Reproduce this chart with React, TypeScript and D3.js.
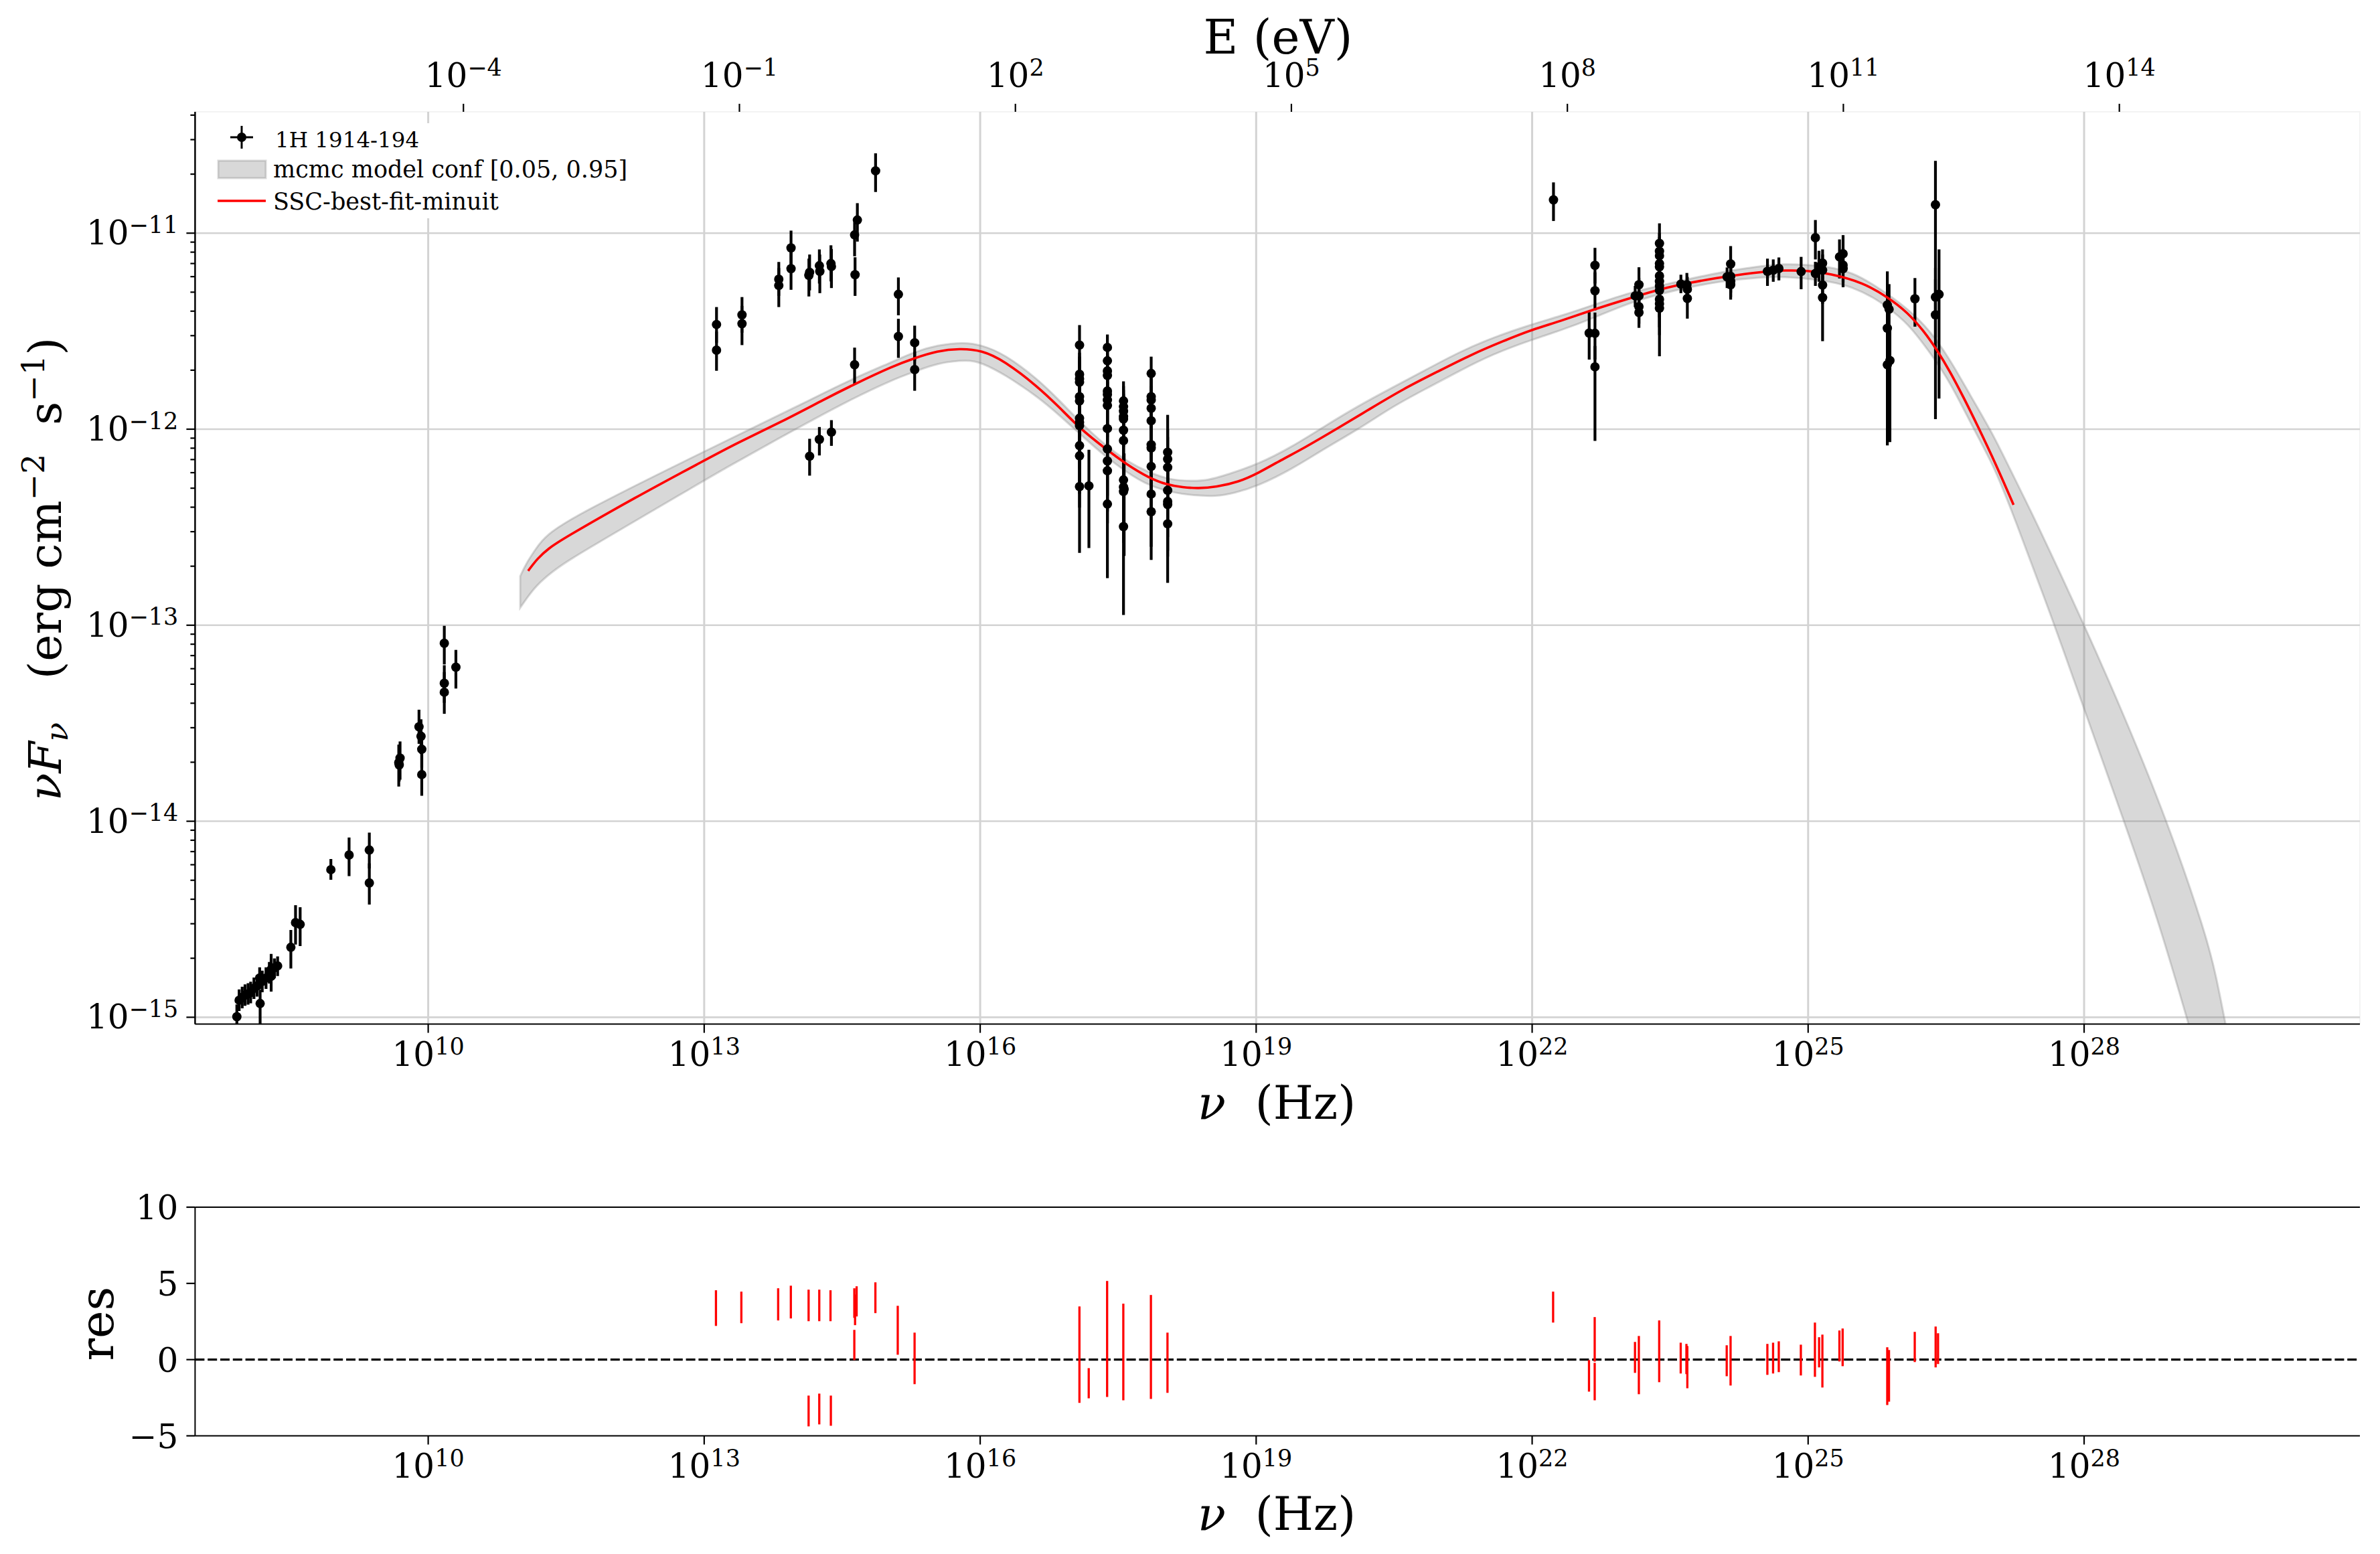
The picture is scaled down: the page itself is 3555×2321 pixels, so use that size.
import * as d3 from "d3"
import { useEffect, useRef } from "react"

type Point = [number, number, number, number] // log nu, log flux, log upper, log lower
type Seg = [number, number, number] // log nu, res top, res bottom
type Run = { t: string; italic?: boolean; size?: number; dy?: number }

const WIDTH = 3555
const HEIGHT = 2321
const SERIF = "'DejaVu Serif', serif"

const radioPoints: Point[] = [
  [7.92, -14.997, -14.935, -15.1], [7.945, -14.913, -14.858, -14.968], [7.978, -14.899, -14.844, -14.954],
  [8.009, -14.887, -14.832, -14.942], [8.042, -14.881, -14.826, -14.936], [8.07, -14.874, -14.819, -14.929],
  [8.106, -14.852, -14.797, -14.907], [8.14, -14.84, -14.785, -14.895], [8.168, -14.8, -14.745, -14.855],
  [8.173, -14.93, -14.86, -15.1], [8.196, -14.817, -14.762, -14.872], [8.237, -14.8, -14.745, -14.855],
  [8.273, -14.773, -14.718, -14.828], [8.293, -14.791, -14.677, -14.869], [8.293, -14.756, -14.7, -14.81],
  [8.329, -14.747, -14.7, -14.8], [8.363, -14.738, -14.69, -14.79], [8.507, -14.643, -14.555, -14.751],
  [8.558, -14.517, -14.428, -14.629], [8.608, -14.526, -14.439, -14.637], [8.942, -14.247, -14.193, -14.299],
  [9.14, -14.172, -14.083, -14.28], [9.36, -14.147, -14.058, -14.241], [9.36, -14.315, -14.215, -14.425],
  [9.68, -13.701, -13.609, -13.823], [9.685, -13.713, -13.622, -13.797], [9.694, -13.678, -13.593, -13.788],
  [9.9, -13.518, -13.431, -13.605], [9.922, -13.567, -13.48, -13.657], [9.93, -13.633, -13.544, -13.727],
  [9.93, -13.762, -13.657, -13.87], [10.175, -13.092, -13.003, -13.2], [10.175, -13.296, -13.204, -13.396],
  [10.175, -13.342, -13.239, -13.452], [10.301, -13.214, -13.126, -13.323],
]

const opticalPoints: Point[] = [
  [13.134, -11.466, -11.377, -11.559], [13.134, -11.597, -11.502, -11.702], [13.411, -11.417, -11.326, -11.508],
  [13.411, -11.462, -11.371, -11.571], [13.811, -11.235, -11.147, -11.32], [13.811, -11.267, -11.178, -11.377],
  [13.944, -11.075, -10.987, -11.166], [13.944, -11.181, -11.092, -11.289], [14.138, -11.215, -11.13, -11.323],
  [14.146, -11.2, -11.109, -11.292], [14.252, -11.166, -11.083, -11.257], [14.257, -11.195, -11.109, -11.306],
  [14.378, -11.155, -11.062, -11.246], [14.383, -11.17, -11.081, -11.28], [14.635, -11.009, -10.944, -11.118],
  [14.665, -10.933, -10.847, -11.043], [14.64, -11.212, -11.123, -11.32], [14.863, -10.682, -10.593, -10.79],
  [15.111, -11.312, -11.226, -11.419], [15.111, -11.527, -11.437, -11.636], [15.288, -11.559, -11.472, -11.65],
  [15.288, -11.696, -11.605, -11.804], [14.635, -11.671, -11.584, -11.768], [14.146, -12.138, -12.049, -12.237],
  [14.252, -12.052, -11.989, -12.134], [14.383, -12.015, -11.954, -12.085],
]

const xrayPoints: Point[] = [
  [17.08, -11.571, -11.469, -11.69], [17.08, -11.72, -11.61, -11.87], [17.08, -11.743, -11.63, -11.9],
  [17.08, -11.76, -11.65, -11.93], [17.08, -11.834, -11.72, -12.02], [17.08, -11.856, -11.74, -12.05],
  [17.08, -11.944, -11.83, -12.15], [17.08, -11.965, -11.85, -12.18], [17.08, -11.982, -11.87, -12.2],
  [17.08, -12.084, -11.96, -12.33], [17.08, -12.136, -12.0, -12.4], [17.08, -12.293, -12.14, -12.631],
  [17.182, -12.289, -12.105, -12.606],
  [17.383, -11.583, -11.517, -11.71], [17.383, -11.651, -11.56, -11.79], [17.383, -11.703, -11.6, -11.86],
  [17.383, -11.726, -11.62, -11.89], [17.383, -11.805, -11.69, -11.98], [17.383, -11.822, -11.71, -12.0],
  [17.383, -11.851, -11.74, -12.04], [17.383, -11.879, -11.76, -12.07], [17.383, -11.997, -11.87, -12.2],
  [17.383, -12.101, -11.97, -12.34], [17.383, -12.162, -12.02, -12.42], [17.383, -12.212, -12.07, -12.48],
  [17.383, -12.382, -12.22, -12.76],
  [17.558, -11.856, -11.756, -11.99], [17.558, -11.885, -11.78, -12.03], [17.558, -11.908, -11.8, -12.05],
  [17.558, -11.936, -11.82, -12.09], [17.558, -11.948, -11.83, -12.11], [17.558, -12.005, -11.88, -12.18],
  [17.558, -12.058, -11.93, -12.24], [17.558, -12.259, -12.11, -12.5], [17.558, -12.295, -12.15, -12.55],
  [17.558, -12.318, -12.17, -12.58], [17.558, -12.497, -12.33, -12.948], [17.565, -12.306, -12.124, -12.646],
  [17.859, -11.716, -11.63, -11.84], [17.859, -11.834, -11.72, -11.99], [17.859, -11.851, -11.74, -12.01],
  [17.859, -11.893, -11.78, -12.06], [17.859, -11.957, -11.84, -12.13], [17.859, -12.079, -11.95, -12.28],
  [17.859, -12.096, -11.97, -12.3], [17.859, -12.19, -12.05, -12.42], [17.859, -12.331, -12.17, -12.6],
  [17.859, -12.421, -12.25, -12.667],
  [18.038, -12.118, -11.927, -12.3], [18.038, -12.153, -12.0, -12.35], [18.038, -12.195, -12.04, -12.4],
  [18.038, -12.312, -12.15, -12.55], [18.038, -12.369, -12.2, -12.62], [18.038, -12.384, -12.22, -12.65],
  [18.038, -12.483, -12.3, -12.784],
]

const gammaPoints: Point[] = [
  [22.232, -10.83, -10.741, -10.938], [22.62, -11.51, -11.403, -11.645], [22.683, -11.164, -11.075, -11.257],
  [22.683, -11.294, -11.2, -11.394], [22.683, -11.511, -11.405, -11.645], [22.683, -11.682, -11.576, -12.06],
  [23.12, -11.32, -11.269, -11.377], [23.161, -11.263, -11.174, -11.349], [23.161, -11.32, -11.229, -11.417],
  [23.161, -11.375, -11.286, -11.462], [23.161, -11.405, -11.314, -11.483],
  [23.384, -11.052, -10.95, -11.16], [23.384, -11.092, -11.0, -11.2], [23.384, -11.115, -11.02, -11.23],
  [23.384, -11.155, -11.06, -11.27], [23.384, -11.172, -11.08, -11.29], [23.384, -11.218, -11.12, -11.34],
  [23.384, -11.246, -11.15, -11.37], [23.384, -11.269, -11.17, -11.4], [23.384, -11.292, -11.19, -11.43],
  [23.384, -11.337, -11.23, -11.48], [23.384, -11.36, -11.25, -11.52], [23.384, -11.383, -11.27, -11.628],
  [23.617, -11.26, -11.212, -11.306], [23.682, -11.263, -11.203, -11.337], [23.687, -11.286, -11.223, -11.349],
  [23.687, -11.333, -11.246, -11.436],
  [24.119, -11.223, -11.175, -11.28], [24.158, -11.157, -11.066, -11.246], [24.158, -11.22, -11.132, -11.303],
  [24.158, -11.246, -11.166, -11.326], [24.158, -11.263, -11.178, -11.339],
  [24.558, -11.195, -11.13, -11.269], [24.621, -11.189, -11.134, -11.248], [24.682, -11.18, -11.124, -11.241],
  [24.924, -11.196, -11.121, -11.286], [25.079, -11.206, -11.146, -11.269], [25.079, -11.023, -10.933, -11.134],
  [25.118, -11.172, -11.09, -11.248], [25.157, -11.153, -11.083, -11.235], [25.157, -11.189, -11.109, -11.269],
  [25.157, -11.265, -11.178, -11.36], [25.157, -11.329, -11.223, -11.551],
  [25.341, -11.121, -11.032, -11.231], [25.38, -11.105, -11.01, -11.2], [25.38, -11.163, -11.075, -11.252],
  [25.38, -11.181, -11.098, -11.276],
  [25.861, -11.366, -11.195, -11.462], [25.88, -11.388, -11.26, -11.519], [25.861, -11.485, -11.35, -11.645],
  [25.861, -11.671, -11.519, -12.083], [25.889, -11.65, -11.496, -12.066],
  [26.161, -11.335, -11.229, -11.477], [26.384, -10.855, -10.631, -11.405], [26.384, -11.326, -11.178, -11.531],
  [26.423, -11.312, -11.083, -11.844], [26.384, -11.417, -11.235, -11.949],
]

const modelNu = [
  11.086, 11.189, 11.313, 11.454, 12.25, 13.0, 13.35, 13.835, 14.32, 14.635, 15.048, 15.29, 15.533, 15.775, 16.018, 16.26,
  16.624, 16.867, 17.09, 17.352, 17.595, 17.837, 18.031, 18.2, 18.37, 18.565, 18.807, 19.025, 19.268, 19.511, 19.875,
  20.238, 20.602, 20.966, 21.33, 21.693, 22.0, 22.3, 22.663, 23.124, 23.391, 23.682, 24.143, 24.507, 24.749, 24.992,
  25.234, 25.598, 25.865, 26.083, 26.253, 26.398, 26.544, 26.69, 26.835, 27.053, 27.233,
]
const modelFlux = [
  -12.723, -12.658, -12.607, -12.562, -12.348, -12.16, -12.072, -11.964, -11.844, -11.77, -11.679, -11.637, -11.601, -11.588,
  -11.597, -11.65, -11.782, -11.891, -11.999, -12.096, -12.181, -12.249, -12.284, -12.297, -12.302, -12.295, -12.27,
  -12.224, -12.158, -12.099, -11.999, -11.896, -11.794, -11.708, -11.621, -11.549, -11.492, -11.45, -11.39, -11.323,
  -11.286, -11.255, -11.218, -11.197, -11.189, -11.191, -11.206, -11.252, -11.326, -11.405, -11.497, -11.593, -11.707,
  -11.838, -11.975, -12.191, -12.386,
]

const bandUpperNu = [
  11.0, 11.064, 11.174, 11.27, 11.582, 13.0, 14.08, 14.563, 15.048, 15.29, 15.533, 15.824, 16.018, 16.26, 16.624,
  16.867, 17.09, 17.352, 17.595, 17.837, 18.08, 18.32, 18.468, 18.685, 19.025, 19.389, 19.753, 20.117, 20.48, 20.844,
  21.208, 21.572, 22.0, 22.3, 22.663, 23.052, 23.537, 24.022, 24.507, 24.749, 24.992, 25.234, 25.477, 25.719, 26.083,
  26.326, 26.544, 26.762, 27.005, 27.187, 27.437, 28.0, 28.453, 28.907, 29.326, 29.434, 29.538,
]
const bandUpperFlux = [
  -12.75, -12.685, -12.607, -12.545, -12.443, -12.113, -11.868, -11.753, -11.656, -11.605, -11.571, -11.556, -11.571,
  -11.616, -11.743, -11.856, -11.965, -12.079, -12.164, -12.221, -12.261, -12.264, -12.261, -12.232, -12.178, -12.09,
  -11.982, -11.879, -11.788, -11.697, -11.606, -11.532, -11.464, -11.424, -11.367, -11.303, -11.252, -11.2, -11.166,
  -11.157, -11.161, -11.172, -11.2, -11.263, -11.383, -11.497, -11.645, -11.827, -12.021, -12.197, -12.43, -12.996,
  -13.48, -14.003, -14.578, -14.787, -15.036,
]
const bandLowerNu = [
  11.0, 11.064, 11.174, 11.342, 11.531, 11.97, 13.0, 13.229, 13.956, 14.563, 15.048, 15.29, 15.533, 15.872, 16.018,
  16.26, 16.624, 16.867, 17.09, 17.352, 17.595, 17.837, 18.08, 18.32, 18.565, 18.757, 19.025, 19.389, 19.753, 20.117,
  20.48, 20.844, 21.208, 21.572, 22.0, 22.3, 22.663, 23.052, 23.537, 24.022, 24.507, 24.749, 24.992, 25.234, 25.477,
  25.719, 25.841, 26.083, 26.326, 26.544, 26.799, 27.029, 27.226, 27.646, 28.0, 28.436, 28.804, 29.136,
]
const bandLowerFlux = [
  -12.911, -12.867, -12.798, -12.729, -12.667, -12.545, -12.262, -12.199, -12.009, -11.855, -11.747, -11.707, -11.662,
  -11.645, -11.662, -11.719, -11.834, -11.931, -12.027, -12.136, -12.221, -12.289, -12.323, -12.338, -12.343, -12.327,
  -12.289, -12.204, -12.096, -11.999, -11.885, -11.794, -11.703, -11.617, -11.543, -11.498, -11.435, -11.354, -11.292,
  -11.246, -11.223, -11.223, -11.232, -11.246, -11.274, -11.331, -11.371, -11.458, -11.61, -11.759, -12.0, -12.197,
  -12.432, -12.956, -13.427, -14.003, -14.5, -15.036,
]

const residualsLow: Seg[] = [
  [13.128, 4.55, 2.21], [13.404, 4.46, 2.39], [13.804, 4.68, 2.57], [13.942, 4.85, 2.7], [14.135, 4.59, 2.52],
  [14.251, 4.59, 2.52], [14.373, 4.55, 2.52], [14.632, 4.68, 2.74], [14.657, 4.81, 2.83], [14.64, 4.27, 2.26],
  [14.632, 1.95, -0.03], [14.861, 5.07, 3.05], [15.104, 3.53, 0.32], [15.287, 1.77, -1.61], [14.135, -2.36, -4.38],
  [14.251, -2.23, -4.25], [14.377, -2.36, -4.34], [17.079, 3.49, -2.84], [17.18, -0.56, -2.54], [17.38, 5.16, -2.45],
  [17.556, 3.67, -2.67], [17.856, 4.24, -2.58], [18.036, 1.77, -2.18],
]
const residualsHigh: Seg[] = [
  [22.228, 4.46, 2.43], [22.618, -0.03, -2.1], [22.68, 2.79, -0.13], [22.68, -0.21, -2.67], [23.118, 1.16, -0.87],
  [23.16, 1.55, -2.27], [23.381, 2.57, -1.48], [23.615, 1.11, -0.91], [23.677, 1.03, -0.95], [23.687, 0.89, -1.88],
  [24.115, 0.94, -1.09], [24.157, 1.55, -1.7], [24.557, 1.03, -1.0], [24.619, 1.11, -0.91], [24.681, 1.2, -0.82],
  [24.921, 0.98, -1.04], [25.074, 2.43, -1.13], [25.119, 1.47, -0.51], [25.155, 1.64, -1.83], [25.34, 1.91, -0.12],
  [25.375, 2.04, -0.43], [25.86, 0.81, -2.98], [25.879, 0.63, -2.76], [26.159, 1.82, -0.16], [26.386, 2.17, -0.51],
  [26.412, 1.73, -0.29],
]

const nuTicks = [10, 13, 16, 19, 22, 25, 28]
const energyTicks = [-4, -1, 2, 5, 8, 11, 14]
const fluxTicks = [-15, -14, -13, -12, -11]
const resTicks = [-5, 0, 5, 10]
const legendLabels = ["1H 1914-194", "mcmc model conf [0.05, 0.95]", "SSC-best-fit-minuit"]

const pow = (v: number) => Math.pow(10, v)
const minus = (n: number) => String(n).replace("-", "\u2212")

function addRuns(text: d3.Selection<any, any, any, any>, runs: Run[]) {
  let prev = 0
  runs.forEach((r) => {
    const s = text.append("tspan").text(r.t)
    if (r.italic) s.attr("font-style", "italic")
    if (r.size) s.attr("font-size", r.size)
    const shift = r.dy ?? 0
    s.attr("dy", shift - prev)
    prev = shift
  })
}

function powerLabels(g: d3.Selection<any, any, any, any>, exponent: (d: any) => number) {
  g.selectAll<SVGTextElement, any>(".tick text").each(function (d) {
    const t = d3.select(this)
    t.text(null)
    addRuns(t, [{ t: "10" }, { t: minus(exponent(d)), size: 35, dy: -17.5 }])
  })
}

function draw(svgEl: SVGSVGElement) {
  const svg = d3.select(svgEl)
  svg.selectAll("*").remove()
  svg.attr("font-family", SERIF).attr("fill", "#000")

  const left = 291.4
  const right = 3525
  const top = 167
  const bottom = 1529.6
  const resTop = 1803
  const resBottom = 2144.5

  const x = d3.scaleLog().domain([pow(7.466), pow(30.998)]).range([left, right])
  const y = d3.scaleLog().domain([pow(-15.035), pow(-10.381)]).range([bottom, top])
  const energy = d3.scaleLog().domain([pow(7.466 - 14.383), pow(30.998 - 14.383)]).range([left, right])
  const yRes = d3.scaleLinear().domain([-5, 10]).range([resBottom, resTop])

  svg.append("rect").attr("width", WIDTH).attr("height", HEIGHT).attr("fill", "#fff")

  const clip = svg.append("clipPath").attr("id", "plot-clip")
  clip.append("rect").attr("x", left).attr("y", top).attr("width", right - left).attr("height", bottom - top)

  // faint top/right frame of the SED panel
  svg.append("path")
    .attr("d", `M${left},${top}H${right}V${bottom}`)
    .attr("fill", "none").attr("stroke", "#f3f3f3").attr("stroke-width", 2)

  const grid = svg.append("g").attr("stroke", "#d3d3d3")
  grid.selectAll("line.v").data(nuTicks).join("line")
    .attr("x1", (d) => x(pow(d))).attr("x2", (d) => x(pow(d)))
    .attr("y1", top).attr("y2", bottom).attr("stroke-width", 3)
  grid.selectAll("line.h").data(fluxTicks).join("line")
    .attr("class", "h")
    .attr("x1", left).attr("x2", right)
    .attr("y1", (d) => y(pow(d))).attr("y2", (d) => y(pow(d))).attr("stroke-width", 2.6)

  const plot = svg.append("g").attr("clip-path", "url(#plot-clip)")

  const logLine = d3.line<[number, number]>()
    .x((d) => x(pow(d[0])))
    .y((d) => y(pow(d[1])))
    .curve(d3.curveBasis)

  const upper = bandUpperNu.map((n, i) => [n, bandUpperFlux[i]] as [number, number])
  const lower = bandLowerNu.map((n, i) => [n, bandLowerFlux[i]] as [number, number]).reverse()
  plot.append("path")
    .attr("d", `${logLine(upper)}L${logLine(lower)!.slice(1)}Z`)
    .attr("fill", "#808080").attr("fill-opacity", 0.31)
    .attr("stroke", "#808080").attr("stroke-opacity", 0.3).attr("stroke-width", 3)

  const points = [...radioPoints, ...opticalPoints, ...xrayPoints, ...gammaPoints]
  plot.append("g").attr("stroke", "#000").attr("stroke-width", 4.2)
    .selectAll("line").data(points).join("line")
    .attr("x1", (d) => x(pow(d[0]))).attr("x2", (d) => x(pow(d[0])))
    .attr("y1", (d) => y(pow(d[2]))).attr("y2", (d) => y(pow(d[3])))

  plot.append("path")
    .attr("d", logLine(modelNu.map((n, i) => [n, modelFlux[i]] as [number, number])))
    .attr("fill", "none").attr("stroke", "#ff0000").attr("stroke-width", 3.6)

  plot.append("g").attr("fill", "#000")
    .selectAll("circle").data(points).join("circle")
    .attr("cx", (d) => x(pow(d[0]))).attr("cy", (d) => y(pow(d[1]))).attr("r", 7)

  const styleAxis = (g: d3.Selection<any, any, any, any>, w = 2) => {
    g.attr("font-family", SERIF).attr("font-size", 50)
    g.selectAll("path.domain").attr("stroke", "#000").attr("stroke-width", w)
    g.selectAll(".tick line").attr("stroke", "#000").attr("stroke-width", 2.2)
    g.selectAll(".tick text").attr("fill", "#000")
  }

  // SED panel axes
  const fluxAxis = svg.append("g").attr("transform", `translate(${left},0)`)
    .call(d3.axisLeft(y).offset(0).tickValues(fluxTicks.map(pow)).tickSize(13).tickSizeOuter(0).tickPadding(12))
  styleAxis(fluxAxis)
  powerLabels(fluxAxis, (d) => Math.round(Math.log10(d)))
  fluxAxis.selectAll(".tick text").attr("dy", null).attr("y", 17)

  const minorFlux: number[] = []
  for (let k = -16; k <= -11; k++) {
    for (let m = 2; m <= 9; m++) {
      const v = m * pow(k)
      if (v > y.domain()[0] && v < y.domain()[1]) minorFlux.push(v)
    }
  }
  const minorAxis = svg.append("g").attr("transform", `translate(${left},0)`)
    .call(d3.axisLeft(y).offset(0).tickValues(minorFlux).tickSize(7).tickSizeOuter(0).tickFormat(() => ""))
  styleAxis(minorAxis)

  const nuAxis = svg.append("g").attr("transform", `translate(0,${bottom})`)
    .call(d3.axisBottom(x).offset(0).tickValues(nuTicks.map(pow)).tickSize(13).tickSizeOuter(0))
  styleAxis(nuAxis)
  powerLabels(nuAxis, (d) => Math.round(Math.log10(d)))
  nuAxis.selectAll(".tick text").attr("dy", null).attr("y", 62.5)

  const energyAxis = svg.append("g").attr("transform", `translate(0,${top})`)
    .call(d3.axisTop(energy).offset(0).tickValues(energyTicks.map(pow)).tickSize(12).tickSizeOuter(0))
  styleAxis(energyAxis)
  energyAxis.select("path.domain").remove()
  powerLabels(energyAxis, (d) => Math.round(Math.log10(d)))
  energyAxis.selectAll(".tick text").attr("dy", null).attr("y", -37)

  // residual panel
  const resG = svg.append("g")
  resG.append("line").attr("x1", left).attr("x2", right).attr("y1", resTop).attr("y2", resTop)
    .attr("stroke", "#000").attr("stroke-width", 2)
  resG.append("line").attr("x1", left).attr("x2", right).attr("y1", yRes(0)).attr("y2", yRes(0))
    .attr("stroke", "#000").attr("stroke-width", 3.4).attr("stroke-dasharray", "14 4.8")
  resG.append("g").attr("stroke", "#ff0000").attr("stroke-width", 3.3)
    .selectAll("line").data([...residualsLow, ...residualsHigh]).join("line")
    .attr("x1", (d) => x(pow(d[0]))).attr("x2", (d) => x(pow(d[0])))
    .attr("y1", (d) => yRes(d[1])).attr("y2", (d) => yRes(d[2]))

  const resAxis = svg.append("g").attr("transform", `translate(${left},0)`)
    .call(d3.axisLeft(yRes).offset(0).tickValues(resTicks).tickSize(13).tickSizeOuter(0).tickPadding(12)
      .tickFormat((d) => minus(+d)))
  styleAxis(resAxis)
  resAxis.selectAll(".tick text").attr("dy", null).attr("y", 18)

  const resNuAxis = svg.append("g").attr("transform", `translate(0,${resBottom})`)
    .call(d3.axisBottom(x).offset(0).tickValues(nuTicks.map(pow)).tickSize(13).tickSizeOuter(0))
  styleAxis(resNuAxis)
  powerLabels(resNuAxis, (d) => Math.round(Math.log10(d)))
  resNuAxis.selectAll(".tick text").attr("dy", null).attr("y", 62.5)

  // axis titles
  const title = (px: number, py: number, size: number, rotate = false) => {
    const t = svg.append("text").attr("font-size", size).attr("text-anchor", "middle").attr("xml:space", "preserve")
    t.attr("transform", rotate ? `translate(${px},${py}) rotate(-90)` : `translate(${px},${py})`)
    return t
  }
  addRuns(title(1907, 1671, 69), [{ t: "\u03bd", italic: true }, { t: "\u00a0\u00a0(Hz)" }])
  addRuns(title(1907, 2285, 69), [{ t: "\u03bd", italic: true }, { t: "\u00a0\u00a0(Hz)" }])
  addRuns(title(1909, 80, 71), [{ t: "E (eV)" }])
  addRuns(title(169, 1977, 70, true), [{ t: "res" }])
  addRuns(title(91, 850, 68, true), [
    { t: "\u03bd", italic: true },
    { t: "F", italic: true },
    { t: "\u03bd", italic: true, size: 47, dy: 10 },
    { t: "\u00a0\u00a0\u00a0(erg cm" },
    { t: "\u22122", size: 47, dy: -25 },
    { t: "\u00a0\u00a0s" },
    { t: "\u22121", size: 47, dy: -25 },
    { t: ")" },
  ])

  // legend
  const legend = svg.append("g")
  legend.append("rect").attr("x", 310).attr("y", 184).attr("width", 650).attr("height", 142).attr("fill", "#fff")
  legend.append("line").attr("x1", 344).attr("x2", 378).attr("y1", 205).attr("y2", 205)
    .attr("stroke", "#000").attr("stroke-width", 3)
  legend.append("line").attr("x1", 361).attr("x2", 361).attr("y1", 188).attr("y2", 222)
    .attr("stroke", "#000").attr("stroke-width", 3)
  legend.append("circle").attr("cx", 361).attr("cy", 205).attr("r", 7).attr("fill", "#000")
  legend.append("rect").attr("x", 326).attr("y", 240).attr("width", 71).attr("height", 26)
    .attr("fill", "#808080").attr("fill-opacity", 0.31)
    .attr("stroke", "#808080").attr("stroke-opacity", 0.3).attr("stroke-width", 3)
  legend.append("line").attr("x1", 325).attr("x2", 397).attr("y1", 300).attr("y2", 300)
    .attr("stroke", "#ff0000").attr("stroke-width", 3.6)
  legend.selectAll("text").data(legendLabels).join("text")
    .attr("x", (_, i) => (i === 0 ? 411 : 408))
    .attr("y", (_, i) => [220, 265, 313][i])
    .attr("font-size", (_, i) => (i === 0 ? 32.5 : 35))
    .text((d) => d)
}

export default function App() {
  const ref = useRef<SVGSVGElement | null>(null)

  useEffect(() => {
    if (ref.current) draw(ref.current)
  }, [])

  return (
    <svg
      ref={ref}
      width={WIDTH}
      height={HEIGHT}
      viewBox={`0 0 ${WIDTH} ${HEIGHT}`}
      style={{ position: "absolute", left: 0, top: 0, display: "block" }}
    />
  )
}
